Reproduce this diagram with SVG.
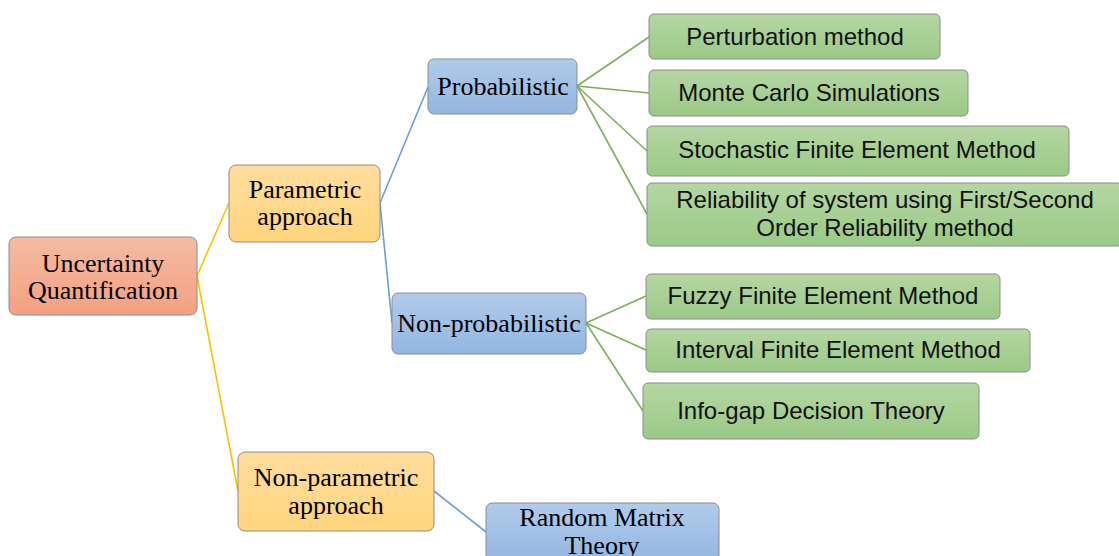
<svg xmlns="http://www.w3.org/2000/svg" width="1119" height="556" viewBox="0 0 1119 556">
<defs>
<linearGradient id="gRed" x1="0" y1="0" x2="0" y2="1"><stop offset="0" stop-color="#F5BBA4"/><stop offset="1" stop-color="#F4A080"/></linearGradient>
<linearGradient id="gYel" x1="0" y1="0" x2="0" y2="1"><stop offset="0" stop-color="#FFDD9E"/><stop offset="1" stop-color="#FFD57D"/></linearGradient>
<linearGradient id="gBlu" x1="0" y1="0" x2="0" y2="1"><stop offset="0" stop-color="#B1CBE9"/><stop offset="1" stop-color="#93B6E2"/></linearGradient>
<linearGradient id="gGrn" x1="0" y1="0" x2="0" y2="1"><stop offset="0" stop-color="#B5D6A3"/><stop offset="1" stop-color="#9BC986"/></linearGradient>
</defs>
<style>
.box{stroke:#8C8C8C;stroke-width:1}
.red{fill:url(#gRed)}
.yel{fill:url(#gYel)}
.blu{fill:url(#gBlu)}
.grn{fill:url(#gGrn)}
.s{font-family:"Liberation Serif","Times New Roman",serif;font-size:26px;fill:#000;text-anchor:middle;dominant-baseline:central}
.c{font-family:"Liberation Sans",Arial,sans-serif;font-size:24px;fill:#111;text-anchor:middle;dominant-baseline:central}
#connectors line{fill:none;stroke-width:1.6}
.ly{stroke:#FFC000}
.lb{stroke:#6A9FD6}
.lg{stroke:#7EB05A}
</style>
<rect width="1119" height="556" fill="#FFFFFF"/>
<g id="connectors">
<line class="ly" x1="197" y1="276" x2="229" y2="203"/>
<line class="ly" x1="197" y1="276" x2="238" y2="491"/>
<line class="lb" x1="380" y1="203" x2="428" y2="87"/>
<line class="lb" x1="380" y1="203" x2="392" y2="323"/>
<line class="lb" x1="434" y1="491" x2="486" y2="532"/>
<line class="lg" x1="577" y1="86" x2="649" y2="37"/>
<line class="lg" x1="577" y1="86" x2="649" y2="93"/>
<line class="lg" x1="577" y1="86" x2="647" y2="151"/>
<line class="lg" x1="577" y1="86" x2="647" y2="214"/>
<line class="lg" x1="586" y1="323" x2="646" y2="296"/>
<line class="lg" x1="586" y1="323" x2="646" y2="350"/>
<line class="lg" x1="586" y1="323" x2="643" y2="411"/>
</g>
<g id="uq"><rect class="box red" x="9" y="237" width="188" height="78" rx="7"/><text class="s" x="103" y="263">Uncertainty</text><text class="s" x="103" y="290">Quantification</text></g>
<g id="parametric"><rect class="box yel" x="229" y="165" width="151" height="77" rx="7"/><text class="s" x="305" y="189">Parametric</text><text class="s" x="305" y="216">approach</text></g>
<g id="nonparametric"><rect class="box yel" x="238" y="452" width="196" height="79" rx="7"/><text class="s" x="336" y="477">Non-parametric</text><text class="s" x="336" y="505">approach</text></g>
<g id="probabilistic"><rect class="box blu" x="428" y="59" width="149" height="55" rx="6"/><text class="s" x="503" y="86">Probabilistic</text></g>
<g id="nonprobabilistic"><rect class="box blu" x="392" y="293" width="194" height="61" rx="6"/><text class="s" x="489" y="323">Non-probabilistic</text></g>
<g id="randommatrix"><rect class="box blu" x="486" y="503" width="233" height="60" rx="6"/><text class="s" x="602" y="517">Random Matrix</text><text class="s" x="602" y="545">Theory</text></g>
<g id="perturbation"><rect class="box grn" x="649" y="14" width="291" height="45" rx="5"/><text class="c" x="795" y="36">Perturbation method</text></g>
<g id="montecarlo"><rect class="box grn" x="649" y="70" width="319" height="46" rx="5"/><text class="c" x="809" y="92">Monte Carlo Simulations</text></g>
<g id="sfem"><rect class="box grn" x="647" y="126" width="422" height="50" rx="5"/><text class="c" x="857" y="149">Stochastic Finite Element Method</text></g>
<g id="reliability"><rect class="box grn" x="647" y="183" width="476" height="63" rx="5"/><text class="c" x="885" y="199">Reliability of system using First/Second</text><text class="c" x="885" y="227">Order Reliability method</text></g>
<g id="fuzzy"><rect class="box grn" x="646" y="274" width="354" height="45" rx="5"/><text class="c" x="823" y="295">Fuzzy Finite Element Method</text></g>
<g id="interval"><rect class="box grn" x="646" y="329" width="384" height="43" rx="5"/><text class="c" x="838" y="349">Interval Finite Element Method</text></g>
<g id="infogap"><rect class="box grn" x="643" y="383" width="336" height="56" rx="5"/><text class="c" x="811" y="410">Info-gap Decision Theory</text></g>
</svg>
